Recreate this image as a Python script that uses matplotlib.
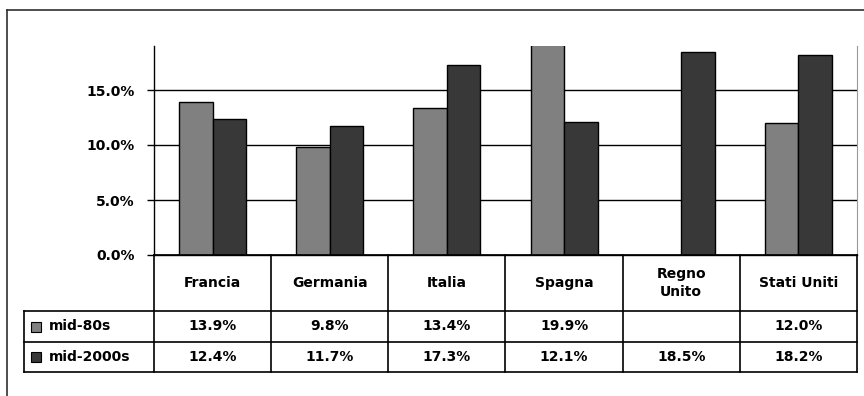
import matplotlib
matplotlib.use("Agg")
import matplotlib.pyplot as plt
import numpy as np
from matplotlib.lines import Line2D
from matplotlib.patches import Rectangle
from matplotlib.ticker import FuncFormatter

plt.rcParams['font.family'] = ['DejaVu Sans']
plt.rcParams['font.weight'] = 'bold'

paesi = ["Francia", "Germania", "Italia", "Spagna", "Regno\nUnito", "Stati Uniti"]
serie = ["mid-80s", "mid-2000s"]
mid80 = [13.9, 9.8, 13.4, 19.9, np.nan, 12.0]
mid2000 = [12.4, 11.7, 17.3, 12.1, 18.5, 18.2]
colori = ["#808080", "#383838"]

W, H = 864, 396
fig = plt.figure(figsize=(W / 100, H / 100), dpi=100)

def box(x0, y0, x1, y1):
    # pixel box (top-left origin) -> figure fraction rect
    return [x0 / W, 1 - y1 / H, (x1 - x0) / W, (y1 - y0) / H]

# cornice esterna
fig.add_artist(Line2D([7 / W, 7 / W], [0, 1 - 10 / H], color="#303030", lw=1.2))
fig.add_artist(Line2D([7 / W, 1], [1 - 10 / H, 1 - 10 / H], color="#303030", lw=1.2))

# grafico a barre
ax = fig.add_axes(box(154, 46, 857, 255))
x = np.arange(len(paesi))
w = 0.286
valori = [mid80, mid2000]
for i in range(2):
    ax.bar(x + (i - 0.5) * w, np.array(valori[i]) / 100, width=w,
           color=colori[i], edgecolor="black", linewidth=1, zorder=3)

ax.set_xlim(-0.5, len(paesi) - 0.5)
ax.set_ylim(0, 0.19)
ax.set_yticks([0, 0.05, 0.10, 0.15])
ax.yaxis.set_major_formatter(FuncFormatter(lambda v, p: "%.1f%%" % (v * 100)))
ax.yaxis.grid(True, color="black", lw=1)
ax.set_axisbelow(True)
ax.set_xticks([])
ax.tick_params(axis="y", length=5, width=1, pad=9, labelsize=10)
ax.spines["top"].set_visible(False)
ax.spines["right"].set_color("#999999")
for s in ["left", "bottom"]:
    ax.spines[s].set_color("black")
    ax.spines[s].set_linewidth(1)

# tabella dati sotto il grafico
tab = fig.add_axes(box(24, 255, 857, 372))
tab.set_xlim(-0.5 - (154 - 24) / 117.2, len(paesi) - 0.5)
tab.set_ylim(117, 0)
tab.axis("off")
righe = [0, 56, 87, 117]
x_sx = tab.get_xlim()[0]
bordi = np.arange(len(paesi) + 1) - 0.5

kw = dict(color="black", lw=1.2, clip_on=False)
tab.plot([bordi[0], bordi[-1]], [0, 0], **kw)
for yy in righe[1:]:
    tab.plot([x_sx, bordi[-1]], [yy, yy], **kw)
for xx in bordi:
    tab.plot([xx, xx], [0, 117], **kw)
tab.plot([x_sx, x_sx], [56, 117], **kw)

for j, p in enumerate(paesi):
    tab.text(j, 28, p, ha="center", va="center", fontsize=10, linespacing=1.3)
for i, vals in enumerate(valori):
    yc = (righe[i + 1] + righe[i + 2]) / 2
    for j, v in enumerate(vals):
        if not np.isnan(v):
            tab.text(j, yc, "%.1f%%" % v, ha="center", va="center", fontsize=10)
    tab.add_patch(Rectangle((x_sx + 0.06, yc - 5), 0.085, 10, facecolor=colori[i],
                            edgecolor="black", lw=0.8, clip_on=False))
    tab.text(x_sx + 0.21, yc, serie[i], ha="left", va="center", fontsize=10)

fig.savefig("out.png", dpi=100)
